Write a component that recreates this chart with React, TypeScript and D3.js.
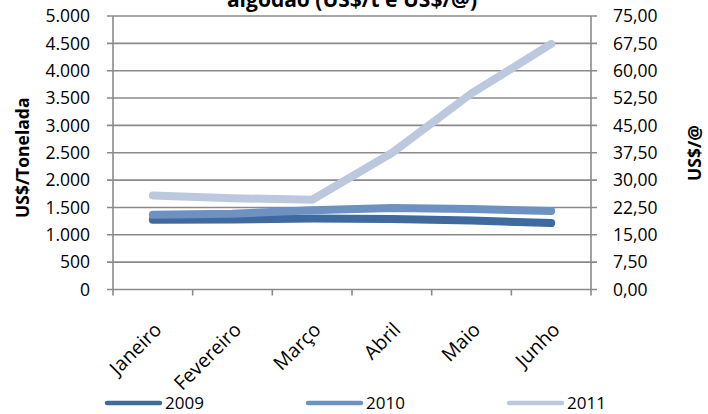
import React, { useEffect } from "react";
import * as d3 from "d3";

const months = ["Janeiro", "Fevereiro", "Março", "Abril", "Maio", "Junho"];
const s2009 = [1275, 1280, 1300, 1290, 1260, 1215];
const s2010 = [1365, 1385, 1450, 1490, 1470, 1435];
const s2011 = [1720, 1670, 1640, 2495, 3585, 4490];
const leftTicks = [0, 500, 1000, 1500, 2000, 2500, 3000, 3500, 4000, 4500, 5000];
const rightTicks = [0, 7.5, 15, 22.5, 30, 37.5, 45, 52.5, 60, 67.5, 75];
const seriesNames = ["2009", "2010", "2011"];
const seriesColors = ["#3E6A9F", "#6D91C1", "#BCC8DD"];

const W = 708;
const H = 414;
const L = 113;
const R = 591;
const T = 16;
const B = 289.5;
const FONT = "'Open Sans', Lato, sans-serif";
const GRID = "#8A8A8A";

export default function App() {
  useEffect(() => {
    document.body.style.margin = "0";
  }, []);

  const x = d3.scaleBand<string>().domain(months).range([L, R]).padding(0);
  const yL = d3.scaleLinear().domain([0, 5000]).range([B, T]);
  const yR = d3.scaleLinear().domain([0, 75]).range([B, T]);
  const line = d3
    .line<number>()
    .x((_, i) => (x(months[i]) as number) + x.bandwidth() / 2)
    .y((d) => yL(d))
    .curve(d3.curveLinear);

  const series = [s2009, s2010, s2011];
  const boundaries = d3.range(months.length + 1).map((i) => L + i * x.bandwidth());
  const legendX = [107, 308, 509];

  return (
    <svg width={W} height={H} style={{ display: "block" }} fontFamily={FONT}>
      <rect width={W} height={H} fill="#fff" />
      {/* title (cut at top, as in the reference) */}
      <text x={352} y={7} textAnchor="middle" fontSize={21} fontWeight="bold" fill="#000">
        algodão (US$/t e US$/@)
      </text>
      {/* gridlines */}
      {leftTicks.map((t) => (
        <line key={"g" + t} x1={L - 6} x2={R + 6} y1={yL(t)} y2={yL(t)} stroke={GRID} strokeWidth={1.6} />
      ))}
      {/* axes */}
      <line x1={L} x2={L} y1={T} y2={B} stroke={GRID} strokeWidth={1.6} />
      <line x1={R} x2={R} y1={T} y2={B} stroke={GRID} strokeWidth={1.6} />
      {boundaries.map((bx, i) => (
        <line key={"xt" + i} x1={bx} x2={bx} y1={B} y2={B + 6} stroke={GRID} strokeWidth={1.6} />
      ))}
      {/* left tick labels */}
      {leftTicks.map((t) => (
        <text key={"lt" + t} x={90} y={yL(t)} dy="0.36em" textAnchor="end" fontSize={17.5} fill="#000">
          {d3.format(",")(t).replace(/,/g, ".")}
        </text>
      ))}
      {/* right tick labels */}
      {rightTicks.map((t) => (
        <text key={"rt" + t} x={613} y={yR(t)} dy="0.36em" textAnchor="start" fontSize={17.5} fill="#000">
          {t.toFixed(2).replace(".", ",")}
        </text>
      ))}
      {/* axis titles */}
      <text
        transform={`translate(29,${(T + B) / 2 + 5}) rotate(-90)`}
        textAnchor="middle"
        fontSize={17.5}
        fontWeight="bold"
        fill="#000"
      >
        US$/Tonelada
      </text>
      <text
        transform={`translate(701,153) rotate(-90)`}
        textAnchor="middle"
        fontSize={17.5}
        fontWeight="bold"
        fill="#000"
      >
        US$/@
      </text>
      {/* x labels */}
      {months.map((m) => {
        const cx = (x(m) as number) + x.bandwidth() / 2;
        return (
          <text
            key={m}
            transform={`translate(${cx + 10},${B + 41.5}) rotate(-45)`}
            textAnchor="end"
            fontSize={19.5}
            fill="#000"
          >
            {m}
          </text>
        );
      })}
      {/* series */}
      {series.map((s, i) => (
        <path
          key={"s" + i}
          d={line(s) as string}
          fill="none"
          stroke={seriesColors[i]}
          strokeWidth={8}
          strokeLinecap="round"
          strokeLinejoin="round"
        />
      ))}
      {/* legend */}
      {seriesNames.map((n, i) => (
        <g key={"lg" + n}>
          <line
            x1={legendX[i]}
            x2={legendX[i] + 53}
            y1={403}
            y2={403}
            stroke={seriesColors[i]}
            strokeWidth={4.5}
            strokeLinecap="round"
          />
          <text x={legendX[i] + 58} y={403} dy="0.36em" fontSize={17} fill="#000">
            {n}
          </text>
        </g>
      ))}
    </svg>
  );
}
